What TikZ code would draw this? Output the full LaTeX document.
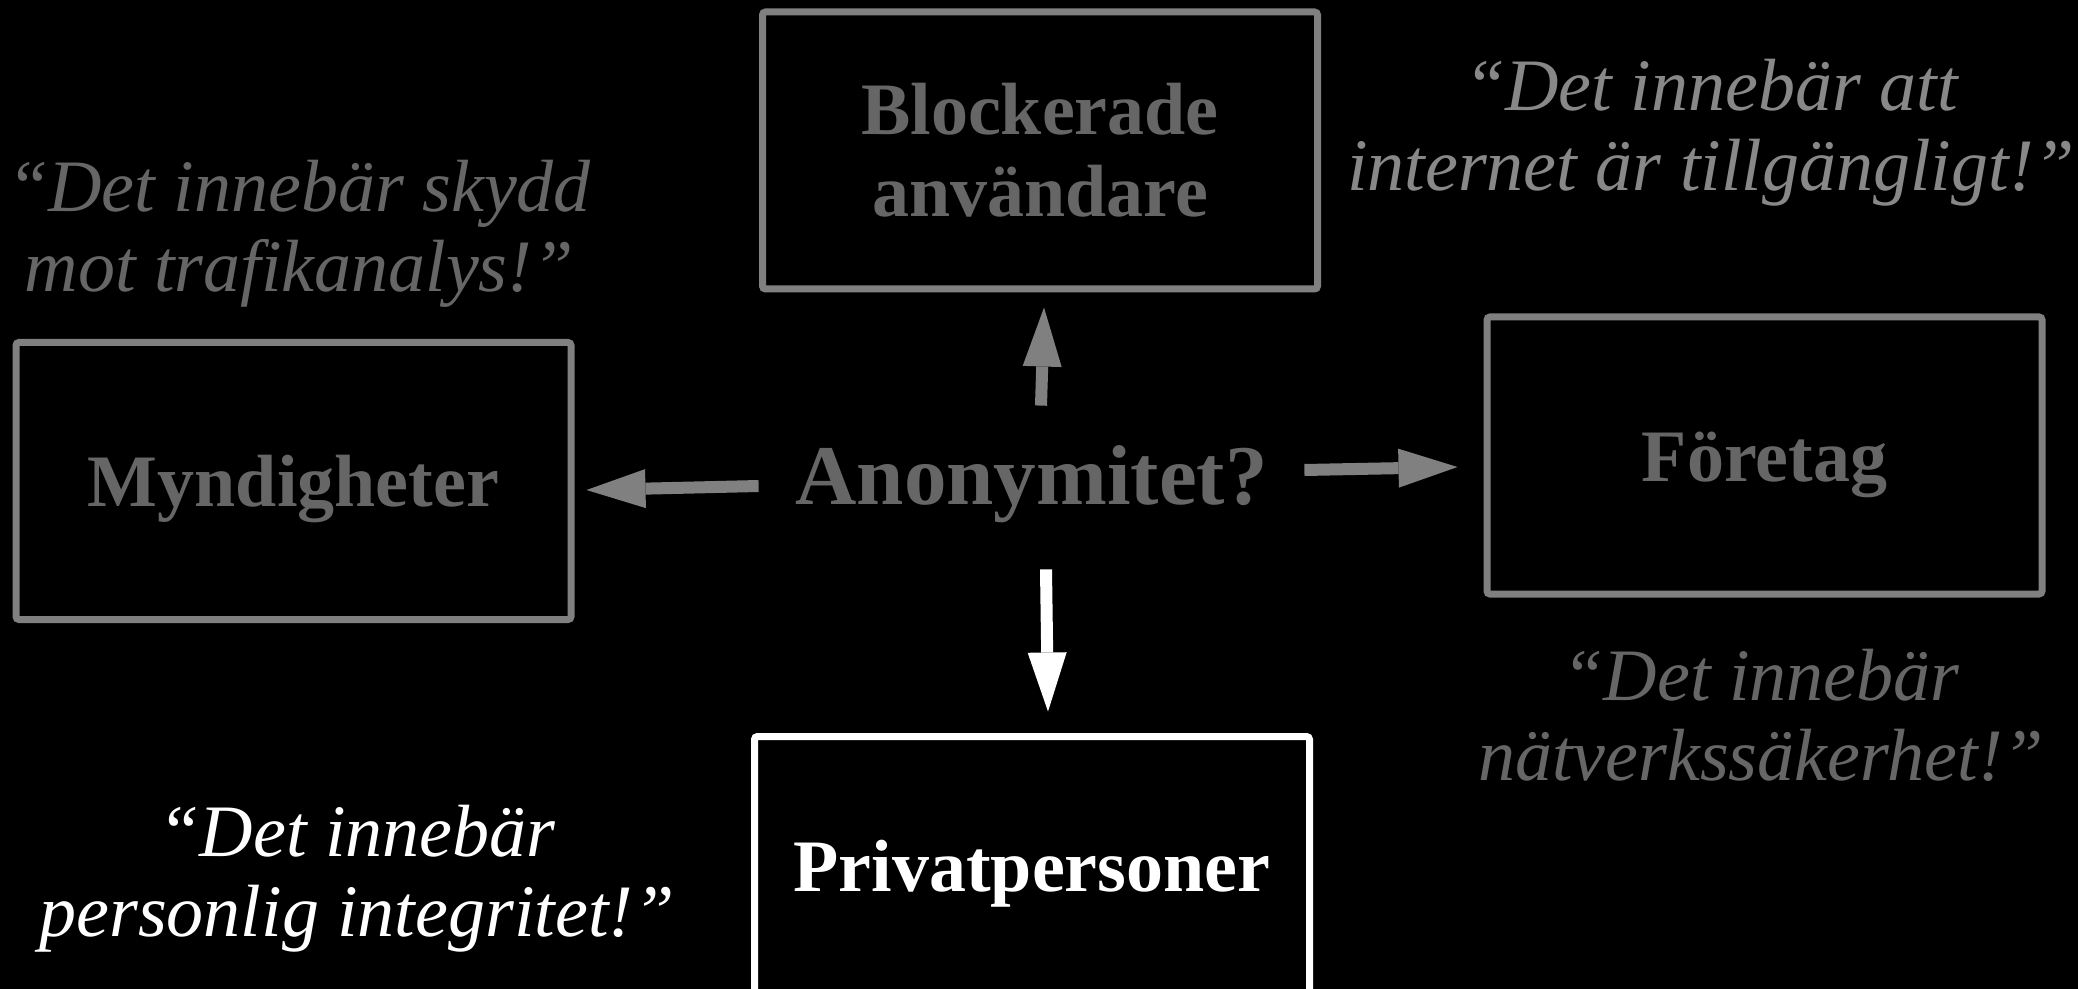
\documentclass[tikz,border=0pt]{standalone}
\usepackage{fontspec}
\setmainfont{Liberation Serif}
\usetikzlibrary{arrows.meta}
\definecolor{bordergray}{HTML}{808080}
\definecolor{textgray}{HTML}{666666}
\definecolor{quotelight}{HTML}{888888}
\begin{document}
\begin{tikzpicture}[x=0.5pt,y=-0.5pt,
  box/.style={draw=bordergray, line width=3.5pt, rounded corners=1.5pt,
    minimum width=277.5pt, minimum height=138.5pt, inner sep=0pt,
    font=\fontsize{37}{41}\selectfont\bfseries, text=textgray, align=center},
  oneline/.style={text height=30pt, text depth=4pt},
  quote/.style={font=\fontsize{37}{40}\selectfont\itshape, align=center,
    inner sep=0pt, text=textgray},
  garrow/.style={draw=bordergray, line width=6pt,
    -{Triangle[length=29.5pt,width=19.5pt,line width=0pt]}},
  warrow/.style={draw=white, line width=6pt,
    -{Triangle[length=29.5pt,width=19.5pt,line width=0pt]}}]
\fill[black] (0,0) rectangle (2078,989);
\useasboundingbox (0,0) rectangle (2078,989);

\node[box] (block) at (1040,150.5) {Blockerade\\användare};
\node[box,oneline] (mynd) at (293.5,481) {Myndigheter};
\node[box,oneline] (foretag) at (1764.5,455.5) {Företag};
\node[box,draw=white,text=white,minimum height=128pt,text height=31.25pt,text depth=4pt] (priv) at (1032,864.5) {Privatpersoner};

\node[font=\fontsize{42.5}{46}\selectfont\bfseries, text=textgray,
  minimum width=272.5pt, minimum height=82pt, inner sep=0pt] (anon) at (1031.5,484) {Anonymitet?};

\node[quote] (q1) at (299,234) {“Det innebär skydd\\mot trafikanalys!”};
\node[quote,text=quotelight] (q2) at (1711,133) {“Det innebär att\\internet är tillgängligt!”};
\node[quote] (q3) at (1761,715) {“Det innebär\\nätverkssäkerhet!”};
\node[quote,text=white] (q4) at (357,879) {“Det innebär\\personlig integritet!”};

\draw[garrow] ([xshift=4.75pt,yshift=-2pt]anon.north) -- ([xshift=2pt,yshift=-7.5pt]block.south);
\draw[garrow] ([yshift=-1pt]anon.west) -- ([xshift=6pt,yshift=-4.5pt]mynd.east);
\draw[garrow] ([yshift=7pt]anon.east) -- ([xshift=-13pt,yshift=-5.75pt]foretag.west);
\draw[warrow] ([xshift=7.25pt,yshift=-1.5pt]anon.south) -- ([xshift=8pt,yshift=10.75pt]priv.north);
\end{tikzpicture}
\end{document}
